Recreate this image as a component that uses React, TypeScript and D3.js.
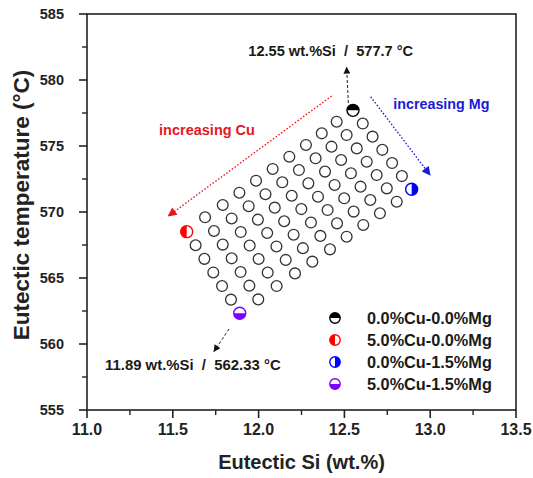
import React from 'react';
import * as d3 from 'd3';

// ---- Data ----
const cuLevels = [0, 0.5, 1, 1.5, 2, 2.5, 3, 3.5, 4, 4.5, 5];
const mgLevels = [0, 0.25, 0.5, 0.75, 1.0, 1.25, 1.5];

// Eutectic Si (wt.%) per Mg level (rows) and Cu level (columns)
const siMg000 = [12.550, 12.455, 12.368, 12.276, 12.179, 12.082, 11.985, 11.888, 11.791, 11.688, 11.581];
const siMg025 = [12.607, 12.513, 12.425, 12.332, 12.235, 12.138, 12.040, 11.942, 11.843, 11.740, 11.633];
const siMg050 = [12.664, 12.572, 12.481, 12.387, 12.290, 12.193, 12.094, 11.996, 11.896, 11.791, 11.684];
const siMg075 = [12.721, 12.630, 12.538, 12.443, 12.346, 12.249, 12.149, 12.050, 11.948, 11.843, 11.736];
const siMg100 = [12.778, 12.688, 12.594, 12.499, 12.402, 12.305, 12.204, 12.104, 12.000, 11.895, 11.787];
const siMg125 = [12.835, 12.747, 12.651, 12.554, 12.457, 12.360, 12.258, 12.158, 12.053, 11.946, 11.839];
const siMg150 = [12.892, 12.805, 12.707, 12.610, 12.513, 12.416, 12.313, 12.212, 12.105, 11.998, 11.890];

// Eutectic temperature (°C)
const tMg000 = [577.70, 576.84, 575.96, 575.08, 574.19, 573.26, 572.37, 571.46, 570.53, 569.60, 568.51];
const tMg025 = [576.70, 575.83, 574.95, 574.07, 573.18, 572.25, 571.35, 570.44, 569.51, 568.56, 567.48];
const tMg050 = [575.71, 574.82, 573.94, 573.06, 572.17, 571.23, 570.33, 569.42, 568.48, 567.53, 566.45];
const tMg075 = [574.71, 573.81, 572.93, 572.05, 571.16, 570.22, 569.30, 568.41, 567.46, 566.49, 565.42];
const tMg100 = [573.71, 572.80, 571.92, 571.04, 570.15, 569.20, 568.28, 567.39, 566.44, 565.45, 564.39];
const tMg125 = [572.72, 571.79, 570.91, 570.03, 569.14, 568.19, 567.26, 566.37, 565.41, 564.42, 563.36];
const tMg150 = [571.72, 570.78, 569.90, 569.02, 568.13, 567.17, 566.24, 565.35, 564.39, 563.38, 562.33];

const siRows = [siMg000, siMg025, siMg050, siMg075, siMg100, siMg125, siMg150];
const tRows = [tMg000, tMg025, tMg050, tMg075, tMg100, tMg125, tMg150];

// Corner (labelled) compositions
const specialLabels = ['0.0%Cu-0.0%Mg', '5.0%Cu-0.0%Mg', '0.0%Cu-1.5%Mg', '5.0%Cu-1.5%Mg'];
const specialSi = [12.55, 11.581, 12.892, 11.89];
const specialT = [577.7, 568.51, 571.72, 562.33];
const specialColors = ['#000000', '#ff0000', '#0000ff', '#8000ff'];
const specialHalves = ['top', 'left', 'right', 'bottom'];

const xTicks = [11.0, 11.5, 12.0, 12.5, 13.0, 13.5];
const yTicks = [555, 560, 565, 570, 575, 580, 585];

const FONT = "'Liberation Sans', Arial, Helvetica, sans-serif";

function halfPath(cx: number, cy: number, r: number, side: string) {
  switch (side) {
    case 'top': return `M${cx - r},${cy} A${r},${r} 0 0 1 ${cx + r},${cy} Z`;
    case 'bottom': return `M${cx - r},${cy} A${r},${r} 0 0 0 ${cx + r},${cy} Z`;
    case 'left': return `M${cx},${cy - r} A${r},${r} 0 0 0 ${cx},${cy + r} Z`;
    default: return `M${cx},${cy - r} A${r},${r} 0 0 1 ${cx},${cy + r} Z`;
  }
}

function HalfMarker({ cx, cy, r, color, side }: any) {
  return (
    <g>
      <circle cx={cx} cy={cy} r={r} fill="#fff" stroke={color} strokeWidth={1.4} />
      <path d={halfPath(cx, cy, r, side)} fill={color} />
    </g>
  );
}

export default function App() {
  const x = d3.scaleLinear().domain([11, 13.5]).range([87, 516]);
  const y = d3.scaleLinear().domain([555, 585]).range([410, 14]);

  const xMinor = d3.range(11, 13.5001, 0.25).filter((v) => !xTicks.some((t) => Math.abs(t - v) < 1e-6));
  const yMinor = d3.range(555, 585.001, 2.5).filter((v) => !yTicks.some((t) => Math.abs(t - v) < 1e-6));

  const gridPts: { si: number; t: number; key: string }[] = [];
  mgLevels.forEach((mg, i) => {
    cuLevels.forEach((cu, j) => {
      const corner = (i === 0 || i === mgLevels.length - 1) && (j === 0 || j === cuLevels.length - 1);
      if (!corner) gridPts.push({ si: siRows[i][j], t: tRows[i][j], key: `${mg}-${cu}` });
    });
  });

  const x0 = x.range()[0], x1 = x.range()[1];
  const y0 = y.range()[0], y1 = y.range()[1];

  return (
    <svg width={533} height={478} style={{ position: 'absolute', left: 0, top: 0, background: '#fff' }}
      fontFamily={FONT}>
      <defs>
        <marker id="ahRed" viewBox="0 0 10 10" refX="9" refY="5" markerUnits="userSpaceOnUse"
          markerWidth="10" markerHeight="9" orient="auto">
          <path d="M0,0 L10,5 L0,10 z" fill="#e8141e" />
        </marker>
        <marker id="ahBlue" viewBox="0 0 10 10" refX="9" refY="5" markerUnits="userSpaceOnUse"
          markerWidth="10" markerHeight="9" orient="auto">
          <path d="M0,0 L10,5 L0,10 z" fill="#1a1ad6" />
        </marker>
        <marker id="ahBlack" viewBox="0 0 10 10" refX="9" refY="5" markerUnits="userSpaceOnUse"
          markerWidth="9" markerHeight="7" orient="auto">
          <path d="M0,0 L10,5 L0,10 z" fill="#111" />
        </marker>
      </defs>
      <rect x={0} y={0} width={533} height={478} fill="#fff" />

      {/* frame */}
      <rect x={x0} y={y1} width={x1 - x0} height={y0 - y1} fill="none" stroke="#222" strokeWidth={1.6} />

      {/* x ticks */}
      {xTicks.map((t) => (
        <g key={`xt${t}`}>
          <line x1={x(t)} x2={x(t)} y1={y0} y2={y0 + 8} stroke="#222" strokeWidth={1.6} />
          <text x={x(t)} y={435} textAnchor="middle" fontSize={16} fontWeight="bold" fill="#222">{t.toFixed(1)}</text>
        </g>
      ))}
      {xMinor.map((t) => (
        <line key={`xm${t}`} x1={x(t)} x2={x(t)} y1={y0} y2={y0 + 5} stroke="#222" strokeWidth={1.4} />
      ))}
      {/* y ticks */}
      {yTicks.map((t) => (
        <g key={`yt${t}`}>
          <line x1={x0 - 8} x2={x0} y1={y(t)} y2={y(t)} stroke="#222" strokeWidth={1.6} />
          <text x={64} y={y(t)} dy="0.36em" textAnchor="end" fontSize={14.5} fontWeight="bold" fill="#222">{t}</text>
        </g>
      ))}
      {yMinor.map((t) => (
        <line key={`ym${t}`} x1={x0 - 5} x2={x0} y1={y(t)} y2={y(t)} stroke="#222" strokeWidth={1.4} />
      ))}

      {/* axis titles */}
      <text x={(x0 + x1) / 2} y={469} textAnchor="middle" fontSize={20} fontWeight="bold" fill="#222">Eutectic Si (wt.%)</text>
      <text transform={`translate(29,${(y0 + y1) / 2 - 7}) rotate(-90)`} textAnchor="middle" fontSize={22.5}
        fontWeight="bold" fill="#222">Eutectic temperature (°C)</text>

      {/* direction arrows */}
      <line x1={x(12.426)} y1={y(578.79)} x2={x(11.474)} y2={y(569.70)} stroke="#e8141e" strokeWidth={1.3}
        strokeDasharray="1.6,1.8" markerEnd="url(#ahRed)" />
      <line x1={x(12.653)} y1={y(578.73)} x2={x(12.999)} y2={y(572.80)} stroke="#1a1ad6" strokeWidth={1.3}
        strokeDasharray="1.6,1.8" markerEnd="url(#ahBlue)" />
      <line x1={x(12.523)} y1={y(578.26)} x2={x(12.513)} y2={y(580.96)} stroke="#222" strokeWidth={1}
        strokeDasharray="3,2" markerEnd="url(#ahBlack)" />
      <line x1={x(11.828)} y1={y(561.14)} x2={x(11.740)} y2={y(559.43)} stroke="#222" strokeWidth={1}
        strokeDasharray="3,2" markerEnd="url(#ahBlack)" />

      <text x={x(11.42)} y={y(575.83)} fontSize={14.5} fontWeight="bold" fill="#e8141e">increasing Cu</text>
      <text x={x(12.785)} y={y(577.78)} fontSize={14.3} fontWeight="bold" fill="#1a1ad6">increasing Mg</text>

      <text x={x(11.94)} y={y(581.82)} fontSize={14.6} fontWeight="bold" fill="#1a1a1a"
        style={{ whiteSpace: 'pre' }}>{'12.55 wt.%Si  /  577.7 °C'}</text>
      <text x={x(11.105)} y={y(558.03)} fontSize={14.9} fontWeight="bold" fill="#1a1a1a"
        style={{ whiteSpace: 'pre' }}>{'11.89 wt.%Si  /  562.33 °C'}</text>

      {/* grid points */}
      {gridPts.map((p) => (
        <circle key={p.key} cx={x(p.si)} cy={y(p.t)} r={5.4} fill="#fff" stroke="#333" strokeWidth={1.3} />
      ))}

      {/* special points */}
      {specialSi.map((si, i) => (
        <HalfMarker key={`sp${i}`} cx={x(si)} cy={y(specialT[i])} r={6} color={specialColors[i]} side={specialHalves[i]} />
      ))}

      {/* legend */}
      {specialLabels.map((lab, i) => (
        <g key={`lg${i}`}>
          <HalfMarker cx={335} cy={318 + i * 22} r={5.2} color={specialColors[i]} side={specialHalves[i]} />
          <text x={367} y={318 + i * 22} dy="0.36em" fontSize={16.3} fontWeight="bold" fill="#1a1a1a">{lab}</text>
        </g>
      ))}
    </svg>
  );
}
